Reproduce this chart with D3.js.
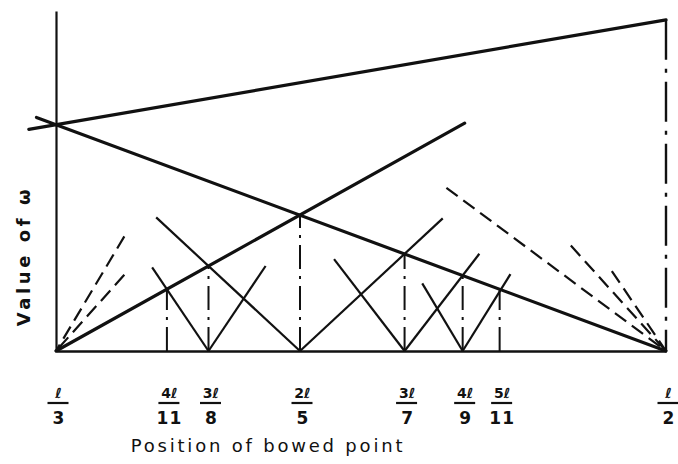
<!DOCTYPE html>
<html><head><meta charset="utf-8">
<script src="https://cdn.jsdelivr.net/npm/d3@7"></script>
<style>
html,body{margin:0;padding:0;background:#fff;}
svg{display:block;}
</style></head><body>
<svg id="chart" width="678" height="464"></svg>
<script>
// Positions of the bowed point, as fractions of the string length ℓ
const tickFractions = [1/3, 4/11, 3/8, 2/5, 3/7, 4/9, 5/11, 1/2];
const tickNumerators = ["ℓ", "4ℓ", "3ℓ", "2ℓ", "3ℓ", "4ℓ", "5ℓ", "ℓ"];
const tickDenominators = ["3", "11", "8", "5", "7", "9", "11", "2"];

// Heavy lines, end points as [position, ω]
const upperLine = [[0.3259, 65.2], [1/2, 97.4]];
const fallingLine = [[0.3280, 68.7], [1/2, 0]];
const risingLine = [[1/3, 0], [0.4450, 67.0]];

// Light V branches rising from the baseline
const branchBase = [3/8, 3/8, 2/5, 2/5, 3/7, 3/7, 4/9, 4/9];
const branchEndX = [0.3596, 0.3906, 0.3607, 0.4390, 0.4093, 0.4490, 0.4334, 0.4575];
const branchEndOmega = [24.6, 25.0, 39.3, 39.0, 27.0, 28.6, 19.9, 22.6];

// Dashed branches converging on ℓ/3 and ℓ/2
const dashBase = [1/3, 1/3, 1/2, 1/2, 1/2];
const dashEndX = [0.3520, 0.3520, 0.4400, 0.4740, 0.4852];
const dashEndOmega = [33.7, 22.4, 48.0, 31.0, 23.5];

// Crossing points marked by chain lines
const markX = [4/11, 3/8, 2/5, 3/7, 4/9, 5/11];
const markOmega = [18.2, 25.0, 40.0, 28.5, 22.2, 18.2];

const svg = d3.select("#chart");
const x = d3.scaleLinear().domain([1/3, 1/2]).range([56, 666]);
const y = d3.scaleLinear().domain([0, 100]).range([351, 11]);
const line = d3.line().x(d => x(d[0])).y(d => y(d[1]));
const ink = "#111";

// Vertical axis at ℓ/3
svg.append("g")
  .attr("transform", `translate(${x(1/3)},0)`)
  .call(d3.axisLeft(y).tickValues([]).tickSizeOuter(0))
  .select(".domain").attr("stroke", ink).attr("stroke-width", 2.2);

// Chain line at ℓ/2 up to the upper line
svg.append("path")
  .attr("d", line([upperLine[1], [1/2, 0]]))
  .attr("stroke", ink).attr("stroke-width", 2.4).attr("fill", "none")
  .attr("stroke-dasharray", "40,9,4,9");

// Chain lines at the crossing points
svg.selectAll(".mark").data(markX).join("path")
  .attr("class", "mark")
  .attr("d", (d, i) => line([[d, 0], [d, markOmega[i]]]))
  .attr("stroke", ink).attr("stroke-width", 2).attr("fill", "none")
  .attr("stroke-dasharray", "24,7,3,7");

// Light branches
svg.selectAll(".branch").data(branchBase).join("path")
  .attr("class", "branch")
  .attr("d", (d, i) => line([[d, 0], [branchEndX[i], branchEndOmega[i]]]))
  .attr("stroke", ink).attr("stroke-width", 2.2).attr("fill", "none");

// Dashed branches, drawn from their outer ends towards the meeting point
svg.selectAll(".dash").data(dashBase).join("path")
  .attr("class", "dash")
  .attr("d", (d, i) => line([[dashEndX[i], dashEndOmega[i]], [d, 0]]))
  .attr("stroke", ink).attr("stroke-width", 2.2).attr("fill", "none")
  .attr("stroke-dasharray", "14,7");

// Heavy lines
[upperLine, fallingLine, risingLine].forEach(pts => {
  svg.append("path").attr("d", line(pts))
    .attr("stroke", ink).attr("stroke-width", 3.2).attr("fill", "none")
    .attr("stroke-linecap", "round");
});

// Baseline axis with fractional tick labels
const xAxis = svg.append("g")
  .attr("transform", `translate(0,${y(0)})`)
  .call(d3.axisBottom(x).tickValues(tickFractions).tickSize(0).tickSizeOuter(0).tickFormat(""));
xAxis.select(".domain").attr("stroke", ink).attr("stroke-width", 2.4);
xAxis.selectAll(".tick").each(function(d, i) {
  const g = d3.select(this);
  g.selectAll("text").remove();
  g.append("text")
    .attr("x", 2).attr("y", 47)
    .attr("text-anchor", "middle")
    .attr("font-family", "DejaVu Sans, sans-serif")
    .attr("font-weight", "bold").attr("font-size", 14)
    .attr("fill", ink)
    .text(tickNumerators[i]);
  g.append("line")
    .attr("x1", -9).attr("x2", 12).attr("y1", 52).attr("y2", 52)
    .attr("stroke", ink).attr("stroke-width", 2.2);
  g.append("text")
    .attr("x", 2).attr("y", 73)
    .attr("text-anchor", "middle")
    .attr("font-family", "DejaVu Sans, sans-serif")
    .attr("font-weight", "bold").attr("font-size", 17)
    .attr("letter-spacing", tickDenominators[i].length > 1 ? 1 : 0)
    .attr("fill", ink)
    .text(tickDenominators[i]);
});

// Axis titles
svg.append("text")
  .attr("x", 268).attr("y", 452)
  .attr("text-anchor", "middle")
  .attr("font-family", "DejaVu Sans, sans-serif")
  .attr("font-size", 18).attr("letter-spacing", 2.8)
  .attr("fill", ink)
  .text("Position of bowed point");

svg.append("text")
  .attr("transform", "translate(23,256) rotate(-90)")
  .attr("text-anchor", "middle")
  .attr("dominant-baseline", "central")
  .attr("font-family", "DejaVu Sans, sans-serif")
  .attr("font-weight", "bold")
  .attr("font-size", 18).attr("letter-spacing", 3.6)
  .attr("fill", ink)
  .text("Value of ω");
</script>
</body></html>
